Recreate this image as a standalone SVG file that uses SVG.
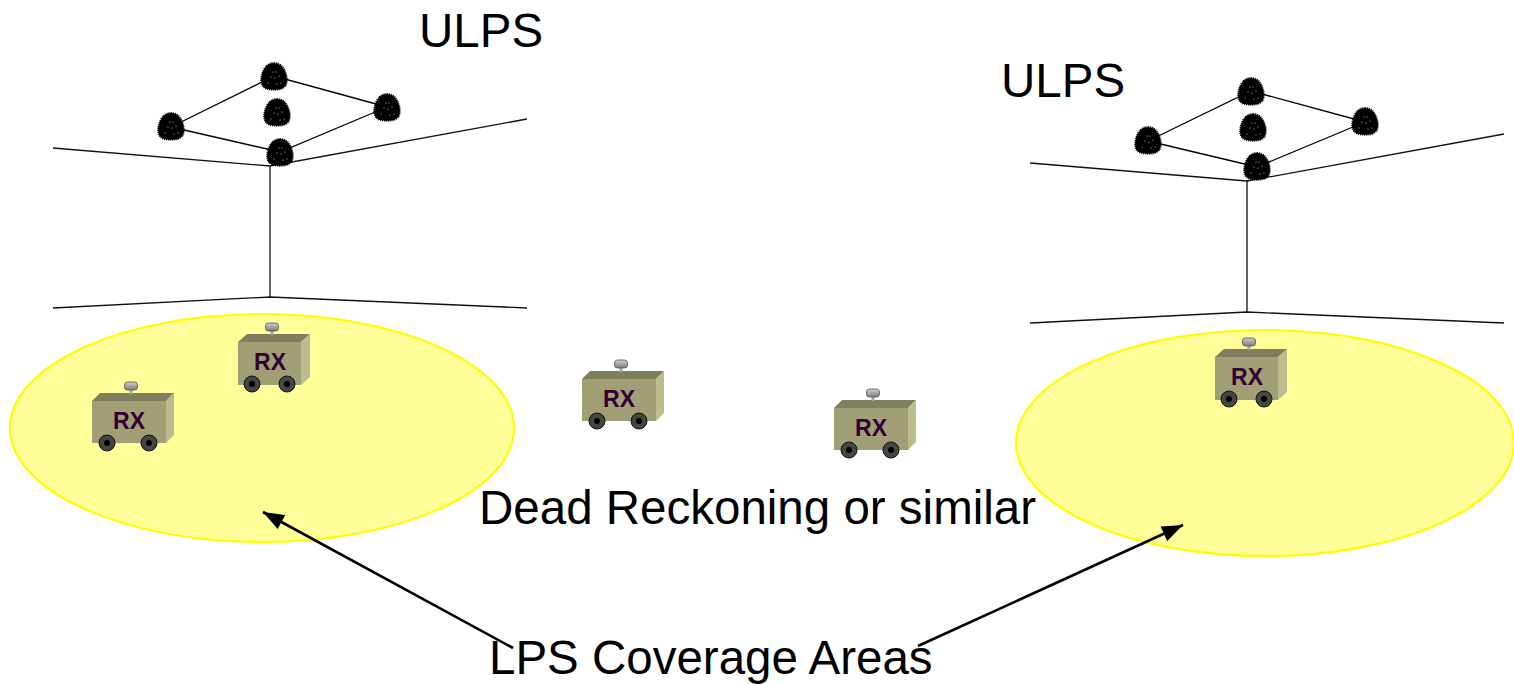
<svg xmlns="http://www.w3.org/2000/svg" xmlns:xlink="http://www.w3.org/1999/xlink" width="1514" height="684" viewBox="0 0 1514 684">
  <style>
    .wire { stroke: #000; stroke-width: 1.3; fill: none; }
    .room { stroke: #111; stroke-width: 1.3; fill: none; }
    .zone { fill: #FFFF99; stroke: #FFFF00; stroke-width: 2.2; }
    .label { font-family: "Liberation Sans", Arial, sans-serif; font-size: 47.5px; fill: #000; }
    .rx { font-family: "Liberation Sans", Arial, sans-serif; font-size: 23px; font-weight: bold; fill: #330033; text-anchor: middle; }
    .pointer { stroke: #000; stroke-width: 2.6; fill: none; marker-end: url(#head); }
  </style>
  <defs>
    <marker id="head" viewBox="0 0 10 10" refX="9" refY="5" markerWidth="10" markerHeight="10" markerUnits="userSpaceOnUse" orient="auto" style="overflow:visible">
      <path d="M-12,-3 L9,5 L-12,13 Z" fill="#000"/>
    </marker>
    <linearGradient id="capShade" x1="0" y1="0" x2="0" y2="1">
      <stop offset="0" stop-color="#d0d0d0"/>
      <stop offset="1" stop-color="#7a7a7a"/>
    </linearGradient>
    <!-- ceiling loudspeaker: fuzzy dark blob with a few light specks -->
    <g id="speaker">
      <path d="M0,-13 C7,-13 10,-8 12,-2 C14,5 13,11 7,13 C3,14 -3,14 -7,13 C-13,11 -14,5 -12,-2 C-10,-8 -7,-13 0,-13 Z" fill="#000" stroke="#000" stroke-width="1.8" stroke-dasharray="1 1"/>
      <g fill="#fff" opacity="0.8">
        <circle cx="-1" cy="-4" r="0.6"/><circle cx="2" cy="-4" r="0.6"/>
        <circle cx="-3" cy="1" r="0.6"/><circle cx="1" cy="2" r="0.6"/>
        <circle cx="5" cy="0" r="0.6"/><circle cx="-6" cy="7" r="0.6"/>
        <circle cx="3" cy="8" r="0.6"/><circle cx="7" cy="7" r="0.6"/>
      </g>
    </g>
    <g id="wheel">
      <circle r="8" fill="#454545" stroke="#111" stroke-width="1"/>
      <circle r="3" fill="#000"/>
    </g>
    <!-- wide receiver cart, origin at the front face top-left -->
    <g id="cartWide">
      <polygon points="0,0 8,-8 82,-8 74,0" fill="#807F5D"/>
      <polygon points="74,0 82,-8 82,34 74,42" fill="#BDBC8D"/>
      <rect x="0" y="0" width="74" height="42" fill="#A09F76"/>
      <rect x="37.5" y="-12" width="3" height="5" fill="#A8A8A8"/>
      <rect x="32.5" y="-19" width="13" height="8" rx="3" fill="url(#capShade)" stroke="#555" stroke-width="0.8"/>
      <use xlink:href="#wheel" x="15" y="42"/>
      <use xlink:href="#wheel" x="57" y="42"/>
    </g>
    <!-- narrow receiver cart -->
    <g id="cartNarrow">
      <polygon points="0,0 9,-8 72,-8 63,0" fill="#807F5D"/>
      <polygon points="63,0 72,-8 72,35 63,43" fill="#BDBC8D"/>
      <rect x="0" y="0" width="63" height="43" fill="#A09F76"/>
      <rect x="32.5" y="-12" width="3" height="5" fill="#A8A8A8"/>
      <rect x="27.5" y="-19" width="13" height="8" rx="3" fill="url(#capShade)" stroke="#555" stroke-width="0.8"/>
      <use xlink:href="#wheel" x="14" y="42"/>
      <use xlink:href="#wheel" x="49" y="42"/>
    </g>
  </defs>

  <rect width="1514" height="684" fill="#fff"/>

  <!-- left room -->
  <g id="room-left">
    <polyline class="room" points="53,148 270,166 527,119"/>
    <line class="room" x1="270" y1="166" x2="270" y2="297"/>
    <polyline class="room" points="53,308 270,297 527,308"/>
    <polyline class="wire" points="171,127 274,76 387,107 280,152 171,127"/>
    <use xlink:href="#speaker" x="274" y="76"/>
    <use xlink:href="#speaker" x="171" y="126"/>
    <use xlink:href="#speaker" x="277" y="112"/>
    <use xlink:href="#speaker" x="387" y="107"/>
    <use xlink:href="#speaker" x="280" y="152"/>
    <text class="label" x="419" y="47">ULPS</text>
  </g>

  <!-- right room -->
  <g id="room-right">
    <polyline class="room" points="1030,163 1247,181 1504,134"/>
    <line class="room" x1="1247" y1="181" x2="1247" y2="312"/>
    <polyline class="room" points="1030,323 1247,312 1504,323"/>
    <polyline class="wire" points="1148,141 1251,91 1365,122 1257,167 1148,141"/>
    <use xlink:href="#speaker" x="1251" y="91"/>
    <use xlink:href="#speaker" x="1148" y="140"/>
    <use xlink:href="#speaker" x="1253" y="127"/>
    <use xlink:href="#speaker" x="1365" y="121"/>
    <use xlink:href="#speaker" x="1257" y="166"/>
    <text class="label" x="1001" y="97">ULPS</text>
  </g>

  <!-- coverage areas -->
  <g id="coverage-left"><ellipse class="zone" cx="262" cy="428" rx="252" ry="114"/></g>
  <g id="coverage-right"><ellipse class="zone" cx="1265" cy="443" rx="249" ry="113"/></g>

  <!-- receivers -->
  <g id="rx-1" transform="translate(92,401)">
    <use xlink:href="#cartWide"/>
    <text class="rx" x="37" y="28">RX</text>
  </g>
  <g id="rx-2" transform="translate(238,342)">
    <use xlink:href="#cartNarrow"/>
    <text class="rx" x="32" y="28">RX</text>
  </g>
  <g id="rx-3" transform="translate(582,379)">
    <use xlink:href="#cartWide"/>
    <text class="rx" x="37" y="28">RX</text>
  </g>
  <g id="rx-4" transform="translate(834,408)">
    <use xlink:href="#cartWide"/>
    <text class="rx" x="37" y="28">RX</text>
  </g>
  <g id="rx-5" transform="translate(1215,357)">
    <use xlink:href="#cartNarrow"/>
    <text class="rx" x="32" y="28">RX</text>
  </g>

  <g id="label-dr"><text class="label" x="479" y="524">Dead Reckoning or similar</text></g>
  <g id="label-lps"><text class="label" x="489" y="674">LPS Coverage Areas</text></g>

  <!-- connectors -->
  <g id="connectors">
    <line class="pointer" x1="513" y1="648" x2="263" y2="512"/>
    <line class="pointer" x1="918" y1="646" x2="1183" y2="525"/>
  </g>
</svg>
